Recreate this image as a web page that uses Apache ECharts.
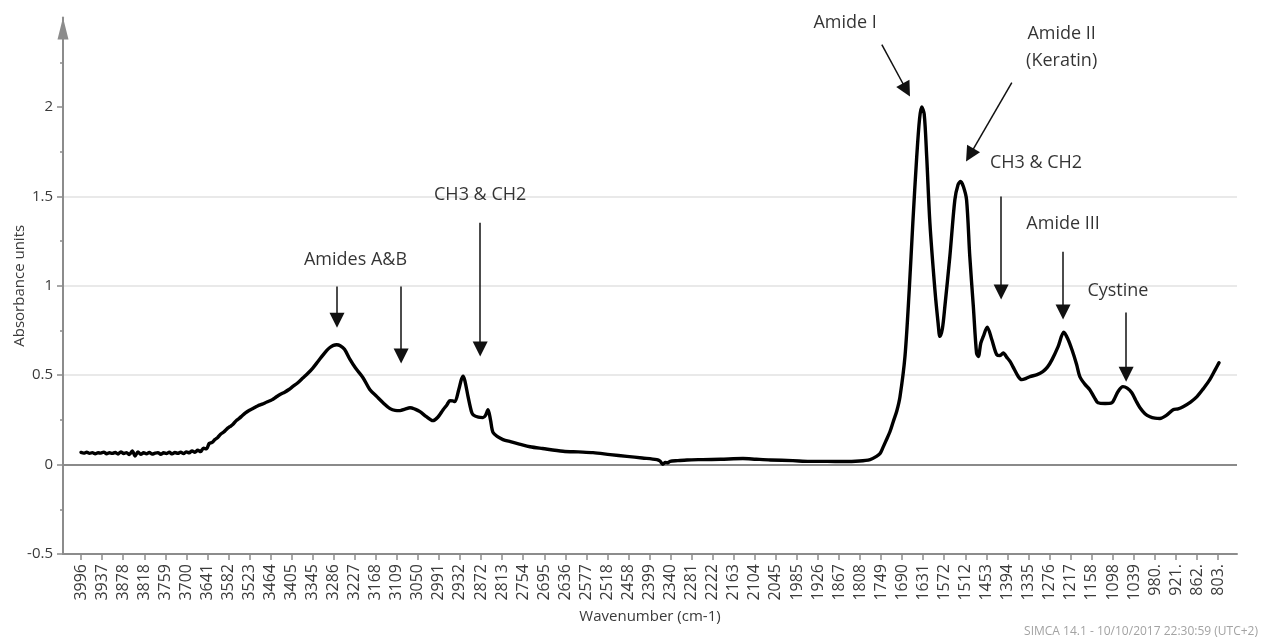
<!DOCTYPE html>
<html>
<head>
<meta charset="utf-8">
<script src="https://cdn.jsdelivr.net/npm/echarts@6/dist/echarts.min.js"></script>
<style>
  html, body { margin: 0; padding: 0; background: #ffffff; }
  #chart { width: 1262px; height: 639px; }
</style>
</head>
<body>
<div id="chart"></div>
<script>
// Wavenumber tick labels along the bottom axis (cm-1)
const tickLabels = ['3996','3937','3878','3818','3759','3700','3641','3582','3523','3464','3405','3345',
  '3286','3227','3168','3109','3050','2991','2932','2872','2813','2754','2695','2636','2577','2518',
  '2458','2399','2340','2281','2222','2163','2104','2045','1985','1926','1867','1808','1749','1690',
  '1631','1572','1512','1453','1394','1335','1276','1217','1158','1098','1039','980.','921.','862.','803.'];
const tickValues = tickLabels.map(s => parseFloat(s));

// Spectrum: wavenumber (cm-1)
const wavenumbers = [
  3996, 3988, 3980, 3972, 3964, 3956, 3948, 3940, 3932, 3924, 3916, 3908, 3900, 3892, 3884, 3876,
  3868, 3860, 3852, 3844, 3836, 3828, 3820, 3812, 3804, 3796, 3788, 3780, 3772, 3764, 3756, 3748,
  3740, 3732, 3724, 3716, 3708, 3700, 3692, 3684, 3676, 3668, 3660, 3652, 3644, 3636, 3628, 3620,
  3612, 3604, 3596, 3586, 3578, 3569, 3560, 3552, 3544, 3535, 3524, 3513, 3500, 3487, 3474, 3460,
  3448, 3437, 3424, 3412, 3401, 3387, 3373, 3358, 3345, 3330, 3316, 3305, 3297, 3287, 3278, 3268,
  3256, 3241, 3225, 3204, 3185, 3165, 3147, 3128, 3114, 3100, 3086, 3072, 3058, 3044, 3026, 3008,
  2994, 2979, 2968, 2960, 2952, 2946, 2935, 2928, 2923, 2918, 2909, 2900, 2895, 2880, 2867, 2860,
  2853, 2846, 2839, 2825, 2811, 2790, 2765, 2735, 2700, 2642, 2600, 2558, 2510, 2463, 2420, 2379,
  2370, 2362, 2355, 2348, 2342, 2320, 2294, 2250, 2200, 2137, 2100, 2060, 1997, 1950, 1900, 1856,
  1810, 1780, 1762, 1752, 1744, 1735, 1724, 1715, 1705, 1696, 1682, 1670, 1660, 1649, 1641, 1635,
  1628, 1621, 1612, 1598, 1589, 1584, 1577, 1570, 1556, 1542, 1533, 1526, 1518, 1509, 1500, 1490,
  1481, 1476, 1469, 1462, 1451, 1438, 1424, 1415, 1406, 1396, 1387, 1379, 1364, 1354, 1342, 1331,
  1311, 1295, 1282, 1269, 1252, 1236, 1224, 1213, 1200, 1191, 1177, 1163, 1150, 1140, 1120, 1101,
  1092, 1084, 1070, 1058, 1045, 1034, 1022, 1008, 994, 980, 966, 948, 929, 915, 901, 880, 862, 844,
  826, 811, 800
];

// Spectrum: absorbance units
const absorbance = [
  0.068, 0.064, 0.069, 0.063, 0.067, 0.061, 0.066, 0.064, 0.070, 0.061, 0.066, 0.063, 0.068, 0.059, 0.071, 0.062,
  0.067, 0.056, 0.077, 0.048, 0.071, 0.057, 0.066, 0.060, 0.068, 0.059, 0.064, 0.067, 0.058, 0.066, 0.062, 0.069,
  0.060, 0.068, 0.063, 0.070, 0.062, 0.071, 0.066, 0.077, 0.069, 0.080, 0.073, 0.092, 0.088, 0.118, 0.124, 0.140,
  0.152, 0.170, 0.181, 0.200, 0.212, 0.226, 0.246, 0.258, 0.272, 0.288, 0.303, 0.314, 0.328, 0.338, 0.350, 0.362,
  0.378, 0.392, 0.405, 0.420, 0.437, 0.458, 0.484, 0.512, 0.540, 0.578, 0.614, 0.640, 0.655, 0.667, 0.670, 0.665,
  0.645, 0.590, 0.540, 0.486, 0.420, 0.380, 0.345, 0.313, 0.303, 0.302, 0.310, 0.318, 0.310, 0.296, 0.268, 0.246,
  0.265, 0.307, 0.335, 0.357, 0.356, 0.352, 0.420, 0.475, 0.495, 0.470, 0.380, 0.300, 0.279, 0.265, 0.263, 0.275,
  0.307, 0.250, 0.180, 0.155, 0.140, 0.128, 0.115, 0.100, 0.090, 0.075, 0.071, 0.067, 0.056, 0.046, 0.037, 0.028,
  0.020, 0.002, 0.012, 0.010, 0.018, 0.022, 0.026, 0.028, 0.030, 0.034, 0.030, 0.026, 0.022, 0.018, 0.018, 0.017,
  0.020, 0.028, 0.046, 0.062, 0.095, 0.135, 0.185, 0.240, 0.300, 0.380, 0.605, 0.978, 1.350, 1.722, 1.935, 2.000,
  1.960, 1.722, 1.350, 0.978, 0.792, 0.717, 0.760, 0.884, 1.164, 1.480, 1.565, 1.583, 1.555, 1.480, 1.164, 0.884,
  0.624, 0.605, 0.680, 0.717, 0.769, 0.698, 0.614, 0.610, 0.624, 0.600, 0.577, 0.548, 0.493, 0.475, 0.482, 0.492,
  0.503, 0.520, 0.545, 0.587, 0.660, 0.740, 0.700, 0.642, 0.560, 0.492, 0.450, 0.419, 0.375, 0.346, 0.342, 0.346,
  0.375, 0.408, 0.436, 0.428, 0.402, 0.360, 0.318, 0.285, 0.268, 0.260, 0.258, 0.275, 0.307, 0.312, 0.324, 0.350, 0.380, 0.425,
  0.475, 0.530, 0.570
];

// Band labels: [wavenumber, absorbance] anchor of each text block
const bandNames = ['Amides A&B', 'CH3 & CH2', 'Amide I', 'Amide II\n(Keratin)', 'CH3 & CH2', 'Amide III', 'Cystine'];
const bandLabelX = [3225, 2875, 1850, 1242, 1314, 1238, 1084];
const bandLabelY = [1.147, 1.510, 2.470, 2.332, 1.687, 1.346, 0.969];

// Pointer arrows: tail and head in data units
const arrowFromX = [3277, 3097, 2875, 1747, 1382, 1412, 1238, 1061];
const arrowFromY = [0.996, 0.996, 1.353, 2.349, 2.136, 1.499, 1.191, 0.850];
const arrowToX   = [3277, 3097, 2875, 1678, 1500, 1412, 1238, 1061];
const arrowToY   = [0.808, 0.607, 0.646, 2.095, 1.731, 0.965, 0.853, 0.506];

const spectrum = wavenumbers.map((w, i) => [w, absorbance[i]]);
const labelPoints = bandNames.map((n, i) => ({ name: n, value: [bandLabelX[i], bandLabelY[i]] }));

const arrowLines = arrowFromX.map((x, i) => [
  { coord: [x, arrowFromY[i]] },
  { coord: [arrowToX[i], arrowToY[i]] }
]);
const zeroLine = [
  { coord: [4046.5, 0], symbol: 'none', lineStyle: { color: '#8a8a8a', width: 2, type: 'solid' } },
  { coord: [749.6, 0], symbol: 'none' }
];

const axisGray = '#8c8c8c';
const textDark = '#3a3a3a';

const chart = echarts.init(document.getElementById('chart'), null, { renderer: 'canvas' });
chart.setOption({
  animation: false,
  backgroundColor: '#ffffff',
  textStyle: { fontFamily: '"Open Sans", "Noto Sans", sans-serif' },
  grid: { left: 63, right: 25, top: 17.6, bottom: 85, containLabel: false, outerBoundsMode: 'none' },
  xAxis: {
    type: 'value',
    inverse: true,
    min: 749.6,
    max: 4046.5,
    name: 'Wavenumber (cm-1)',
    nameLocation: 'middle',
    nameGap: 55,
    nameMoveOverlap: false,
    nameTextStyle: { color: textDark, fontSize: 15, fontFamily: '"Open Sans", sans-serif' },
    axisLine: { show: true, onZero: false, lineStyle: { color: axisGray, width: 2 } },
    axisTick: { show: true, customValues: tickValues, length: 6, lineStyle: { color: axisGray, width: 1.5 } },
    axisLabel: {
      customValues: tickValues,
      rotate: 90,
      margin: 10,
      color: textDark,
      fontSize: 16,
      fontFamily: '"Open Sans", sans-serif',
      formatter: v => {
        const i = tickValues.indexOf(v);
        return i >= 0 ? tickLabels[i] : '';
      }
    },
    splitLine: { show: false }
  },
  yAxis: {
    type: 'value',
    min: -0.5,
    max: 2.5,
    interval: 0.5,
    name: 'Absorbance units',
    nameLocation: 'middle',
    nameGap: 36,
    nameMoveOverlap: false,
    nameTextStyle: { color: textDark, fontSize: 15, fontFamily: '"Open Sans", sans-serif' },
    axisLine: {
      show: true,
      lineStyle: { color: axisGray, width: 2 },
      symbol: ['none', 'triangle'],
      symbolSize: [11, 22],
      symbolOffset: [0, -11]
    },
    axisTick: { show: true, customValues: [-0.5, 0, 0.5, 1, 1.5, 2], length: 6, lineStyle: { color: axisGray, width: 1.5 } },
    minorTick: { show: true, splitNumber: 2, length: 3, lineStyle: { color: axisGray, width: 1.5 } },
    axisLabel: {
      customValues: [-0.5, 0, 0.5, 1, 1.5, 2],
      margin: 10,
      color: textDark,
      fontSize: 15,
      fontFamily: '"Open Sans", sans-serif'
    },
    splitLine: { show: true, showMinLine: false, showMaxLine: false, lineStyle: { color: '#e2e2e2', width: 1.5 } }
  },
  series: [
    {
      type: 'line',
      data: spectrum,
      showSymbol: false,
      symbol: 'none',
      smooth: 0.3,
      lineStyle: { color: '#000000', width: 3.4, join: 'round', cap: 'round' },
      silent: true,
      z: 5,
      markLine: {
        silent: true,
        animation: false,
        symbol: ['none', 'triangle'],
        symbolSize: [15, 15],
        label: { show: false },
        emphasis: { disabled: true },
        lineStyle: { color: '#111111', width: 1.5, type: 'solid' },
        data: [zeroLine].concat(arrowLines)
      }
    },
    {
      type: 'scatter',
      data: labelPoints,
      symbolSize: 0,
      silent: true,
      z: 6,
      label: {
        show: true,
        position: 'inside',
        formatter: '{b}',
        color: '#000000',
        fontSize: 18,
        lineHeight: 27,
        fontFamily: '"Open Sans", sans-serif'
      }
    }
  ],
  graphic: [
    {
      type: 'text',
      right: 4,
      bottom: 1,
      style: {
        text: 'SIMCA 14.1 - 10/10/2017 22:30:59 (UTC+2)',
        fill: '#a3a3a3',
        font: '12px "Open Sans", sans-serif'
      }
    }
  ]
});
</script>
</body>
</html>
